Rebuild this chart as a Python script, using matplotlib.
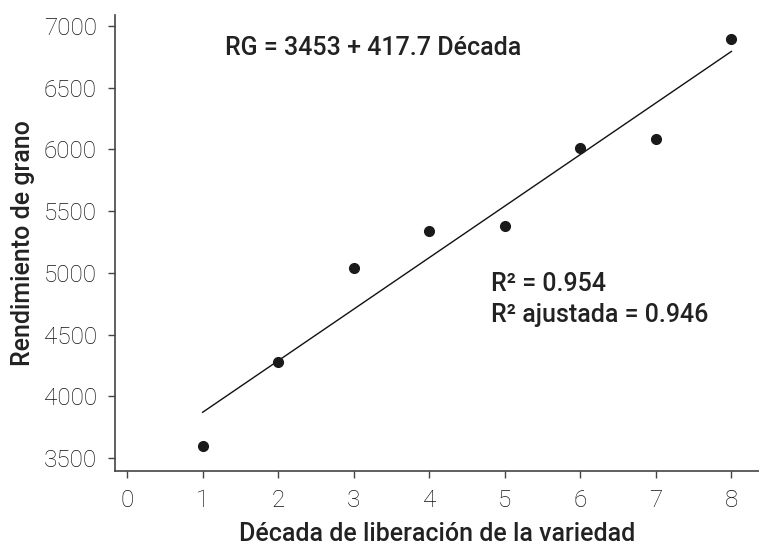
import numpy as np
import matplotlib
matplotlib.use("Agg")
import matplotlib.pyplot as plt

# =====================================================
# DATA
# =====================================================

decada = [1, 2, 3, 4, 5, 6, 7, 8]
rendimiento = [3597, 4278, 5037, 5342, 5378, 6010, 6085, 6893]

intercepto = 3453
pendiente = 417.7

x_ticks = [0, 1, 2, 3, 4, 5, 6, 7, 8]
y_ticks = [3500, 4000, 4500, 5000, 5500, 6000, 6500, 7000]

# =====================================================
# FIGURE
# =====================================================

plt.rcParams["font.family"] = ["Roboto", "DejaVu Sans"]

fig = plt.figure(figsize=(7.59, 5.48), dpi=100)
ax = fig.add_axes([0.1515, 0.1405, 0.848, 0.832])

x_line = np.array([decada[0], decada[-1]])
ax.plot(x_line, intercepto + pendiente * x_line, color="#111111", linewidth=1)

ax.plot(decada, rendimiento, "o", color="#1a1a1a", markersize=7)

ax.set_xlim(-0.16, 8.36)
ax.set_ylim(3395, 7089)
ax.set_xticks(x_ticks)
ax.set_yticks(y_ticks)

for side in ["top", "right"]:
    ax.spines[side].set_visible(False)
for side in ["left", "bottom"]:
    ax.spines[side].set_color("#444444")
    ax.spines[side].set_linewidth(1.2)

ax.tick_params(direction="out", length=5, width=1, color="#444444",
               labelcolor="#111111", labelsize=17.5, pad=8)
for lab in ax.get_xticklabels() + ax.get_yticklabels():
    lab.set_fontweight("light")

ax.set_xlabel("Década de liberación de la variedad", fontsize=18,
              fontweight="medium", color="#222222", labelpad=7)
ax.set_ylabel("Rendimiento de grano", fontsize=18,
              fontweight="medium", color="#222222", labelpad=6)

fig.text(225 / 759, 1 - 48 / 548, "RG = 3453 + 417.7 Década", fontsize=18,
         fontweight="medium", color="#222222", va="center", ha="left")
fig.text(491 / 759, 1 - 284 / 548, "R² = 0.954", fontsize=18,
         fontweight="medium", color="#222222", va="center", ha="left")
fig.text(491 / 759, 1 - 315 / 548, "R² ajustada = 0.946", fontsize=18,
         fontweight="medium", color="#222222", va="center", ha="left")

fig.savefig("out.png", dpi=100)
